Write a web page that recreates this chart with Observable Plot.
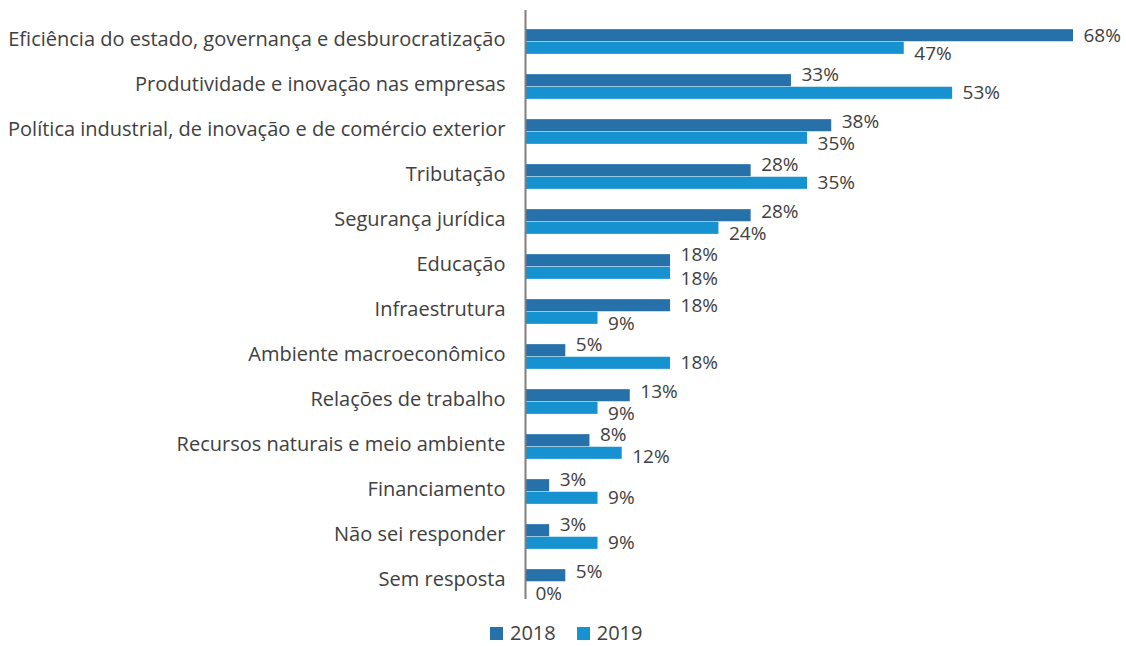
<!DOCTYPE html>
<html>
<head>
<meta charset="utf-8">
<script src="https://cdn.jsdelivr.net/npm/d3@7"></script>
<script src="https://cdn.jsdelivr.net/npm/@observablehq/plot@0.6"></script>
<style>
  html, body { margin: 0; background: #fff; font-family: "Open Sans", sans-serif; overflow: hidden; }
  #legend { display: flex; align-items: center; height: 20px; line-height: 20px; margin-top: 13px; padding-left: 490px; font-size: 20px; color: #404040; }
  #legend .sw { width: 13px; height: 13px; display: inline-block; margin-right: 7px; }
  #legend .item { display: flex; align-items: center; margin-right: 21px; }
</style>
</head>
<body>
<div id="chart"></div>
<div id="legend"></div>
<script>
const categories = [
  "Eficiência do estado, governança e desburocratização",
  "Produtividade e inovação nas empresas",
  "Política industrial, de inovação e de comércio exterior",
  "Tributação",
  "Segurança jurídica",
  "Educação",
  "Infraestrutura",
  "Ambiente macroeconômico",
  "Relações de trabalho",
  "Recursos naturais e meio ambiente",
  "Financiamento",
  "Não sei responder",
  "Sem resposta"
];
const values2018 = [68, 33, 38, 28, 28, 18, 18, 5, 13, 8, 3, 3, 5];
const values2019 = [47, 53, 35, 35, 24, 18, 9, 18, 9, 12, 9, 9, 0];
const seriesNames = ["2018", "2019"];
const colors = ["#2771ab", "#1792d1"];

const rows = [];
categories.forEach((c, i) => {
  rows.push({cat: c, year: "2018", v: values2018[i], other: values2019[i]});
  rows.push({cat: c, year: "2019", v: values2019[i], other: values2018[i]});
});

const half = 6.3;
function labelDy(d) {
  const base = d.year === "2018" ? -half : half;
  const dir = d.year === "2018" ? -1 : 1;
  let push = 0;
  if (d.v <= d.other) push = 5.5;
  else if (d.v - d.other <= 5) push = 4;
  return base + dir * push;
}
const groups = d3.groups(rows, labelDy);

const textColor = "#404040";
const chart = Plot.plot({
  width: 1126,
  height: 610,
  marginLeft: 525,
  marginRight: 53,
  marginTop: 10,
  marginBottom: 11,
  style: {fontFamily: "'Open Sans', sans-serif", color: textColor, background: "#fff", overflow: "visible"},
  x: {domain: [0, 68], axis: null},
  y: {domain: categories, range: [15.5, 607], padding: 0},
  marks: [
    Plot.barX(rows.filter(d => d.year === "2018"), {x: "v", y: "cat", fill: colors[0], insetTop: 16.45, insetBottom: 16.45, dy: -half}),
    Plot.barX(rows.filter(d => d.year === "2019"), {x: "v", y: "cat", fill: colors[1], insetTop: 16.45, insetBottom: 16.45, dy: half}),
    Plot.ruleX([0], {stroke: "#7f7f7f", strokeWidth: 2}),
    Plot.axisY({tickSize: 0, tickPadding: 20, fontSize: 20, dy: -2, fill: textColor, label: null}),
    ...groups.map(([dy, g]) => Plot.text(g, {x: "v", y: "cat", text: d => d.v + "%", dx: 10, dy, textAnchor: "start", fontSize: 19, fill: textColor}))
  ]
});
document.getElementById("chart").appendChild(chart);

const legend = document.getElementById("legend");
seriesNames.forEach((s, i) => {
  const item = document.createElement("span");
  item.className = "item";
  item.innerHTML = `<span class="sw" style="background:${colors[i]}"></span><span>${s}</span>`;
  legend.appendChild(item);
});
</script>
</body>
</html>
